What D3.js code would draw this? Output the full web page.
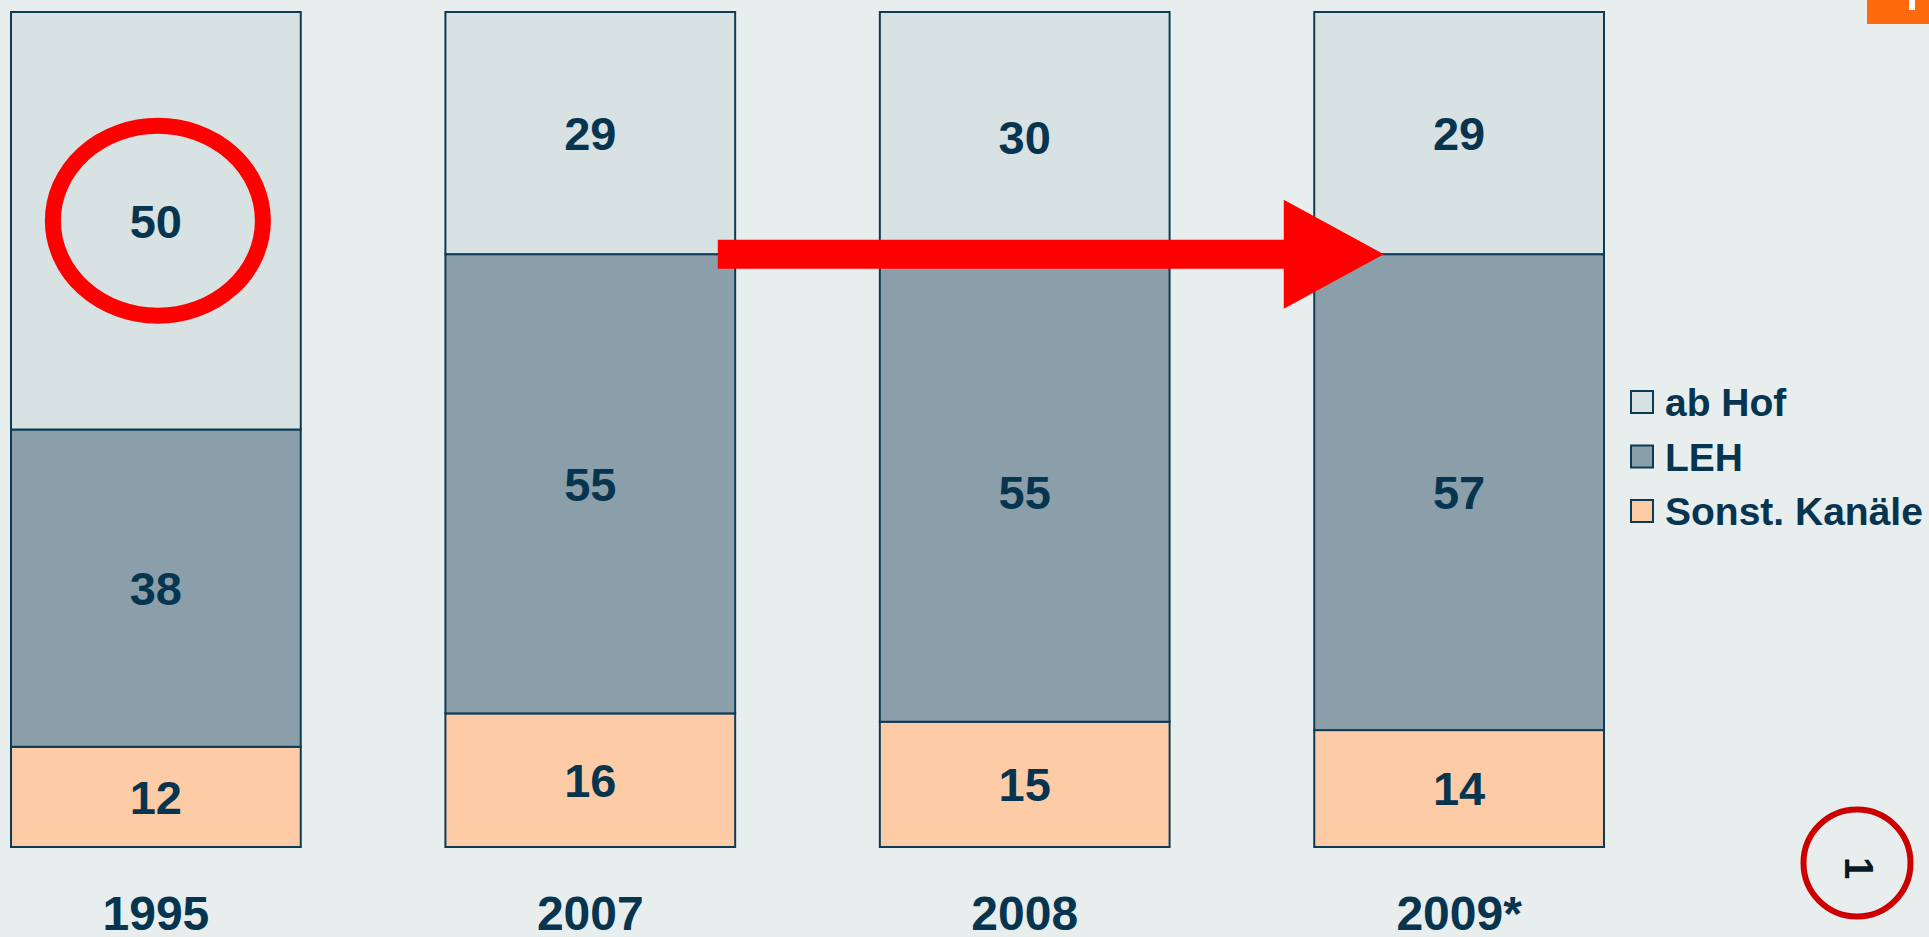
<!DOCTYPE html>
<html>
<head>
<meta charset="utf-8">
<script src="https://cdn.jsdelivr.net/npm/d3@7/dist/d3.min.js"></script>
<style>
  html, body { margin: 0; padding: 0; background: #e8edee; overflow: hidden; }
  svg { display: block; font-family: 'Liberation Sans', Arial, sans-serif; font-weight: bold; }
</style>
</head>
<body>
<svg id="chart" width="1929" height="937"></svg>
<script>
// channel shares in percent, bottom to top
const years = ['1995', '2007', '2008', '2009*']
const series = ['Sonst. Kanäle', 'LEH', 'ab Hof']
const sonst = [12, 16, 15, 14]
const leh = [38, 55, 55, 57]
const abHof = [50, 29, 30, 29]
const legendOrder = ['ab Hof', 'LEH', 'Sonst. Kanäle']

const colors = {
  'ab Hof': '#d9e2e2',
  'LEH': '#8a9fa9',
  'Sonst. Kanäle': '#fdcca6'
}
const ink = '#073550'
const edge = '#0d3b55'

let svg = d3.select('#chart')

let rows = years.map((yr, i) => ({
  year: yr,
  'Sonst. Kanäle': sonst[i],
  'LEH': leh[i],
  'ab Hof': abHof[i]
}))

let stacked = d3.stack().keys(series)(rows)

let x = d3.scaleBand().domain(years).range([11, 1604]).paddingInner(0.333).paddingOuter(0)
let y = d3.scaleLinear().domain([0, 100]).range([847, 12])

// stacked segments
let layers = svg.append('g').attr('class', 'bars')
  .selectAll('g')
  .data(stacked)
  .join('g')
    .attr('fill', (d) => colors[d.key])

layers.selectAll('rect')
  .data((d) => d)
  .join('rect')
    .attr('x', (d) => x(d.data.year))
    .attr('y', (d) => y(d[1]))
    .attr('width', x.bandwidth())
    .attr('height', (d) => y(d[0]) - y(d[1]))
    .attr('stroke', edge)
    .attr('stroke-width', 2)

// values in the middle of each segment
layers.selectAll('text')
  .data((d) => d)
  .join('text')
    .attr('x', (d) => x(d.data.year) + x.bandwidth() / 2)
    .attr('y', (d) => (y(d[0]) + y(d[1])) / 2)
    .attr('dy', '0.36em')
    .attr('text-anchor', 'middle')
    .attr('fill', ink)
    .attr('font-size', 47)
    .text((d) => d[1] - d[0])

// year labels under the bars
let xAxis = svg.append('g')
  .attr('transform', 'translate(0,' + 913 + ')')
  .call(d3.axisBottom(x).tickSize(0).tickPadding(0))
xAxis.select('.domain').remove()
xAxis.selectAll('text')
  .attr('y', 0)
  .attr('dy', '0.36em')
  .attr('fill', ink)
  .attr('font-size', 48)
  .attr('font-family', null)
  .attr('font-weight', 'bold')

// legend
let legend = svg.append('g')
  .attr('transform', 'translate(1631,391)')
let item = legend.selectAll('g')
  .data(legendOrder)
  .join('g')
    .attr('transform', (d, i) => 'translate(0,' + i * 54.5 + ')')
item.append('rect')
  .attr('width', 22)
  .attr('height', 22)
  .attr('fill', (d) => colors[d])
  .attr('stroke', edge)
  .attr('stroke-width', 2)
item.append('text')
  .attr('x', 34)
  .attr('y', 11)
  .attr('dy', '0.36em')
  .attr('fill', ink)
  .attr('font-size', 39)
  .text((d) => d)

// red annotations: ring round 1995 "ab Hof", arrow from 2007 to 2009
let c1995 = stacked[2][0]
svg.append('ellipse')
  .attr('cx', x('1995') + x.bandwidth() / 2 + 2)
  .attr('cy', (y(c1995[0]) + y(c1995[1])) / 2)
  .attr('rx', 105)
  .attr('ry', 95)
  .attr('fill', 'none')
  .attr('stroke', '#ff0000')
  .attr('stroke-width', 16)

let ay = y(stacked[1][3][1])
let ax0 = x('2007') + x.bandwidth() * 0.94
let tip = x('2009*') + x.bandwidth() * 0.24
let base = tip - 100
svg.append('path')
  .attr('fill', '#ff0000')
  .attr('d', d3.line()([
    [ax0, ay - 14.5], [base, ay - 14.5], [base, ay - 54.5], [tip, ay],
    [base, ay + 54.5], [base, ay + 14.5], [ax0, ay + 14.5]
  ]) + 'Z')

// page corner decorations
svg.append('rect')
  .attr('x', 1867).attr('y', 0)
  .attr('width', 62).attr('height', 24)
  .attr('fill', '#ff6a0e')
svg.append('rect')
  .attr('x', 1909).attr('y', 0)
  .attr('width', 6).attr('height', 10)
  .attr('fill', '#ffffff')

svg.append('circle')
  .attr('cx', 1857).attr('cy', 863).attr('r', 53.5)
  .attr('fill', 'none')
  .attr('stroke', '#cc0000')
  .attr('stroke-width', 6)
svg.append('text')
  .attr('transform', 'translate(1859,868) rotate(90)')
  .attr('text-anchor', 'middle')
  .attr('dy', '0.36em')
  .attr('fill', '#0a1a22')
  .attr('font-size', 40)
  .text('1')
</script>
</body>
</html>
